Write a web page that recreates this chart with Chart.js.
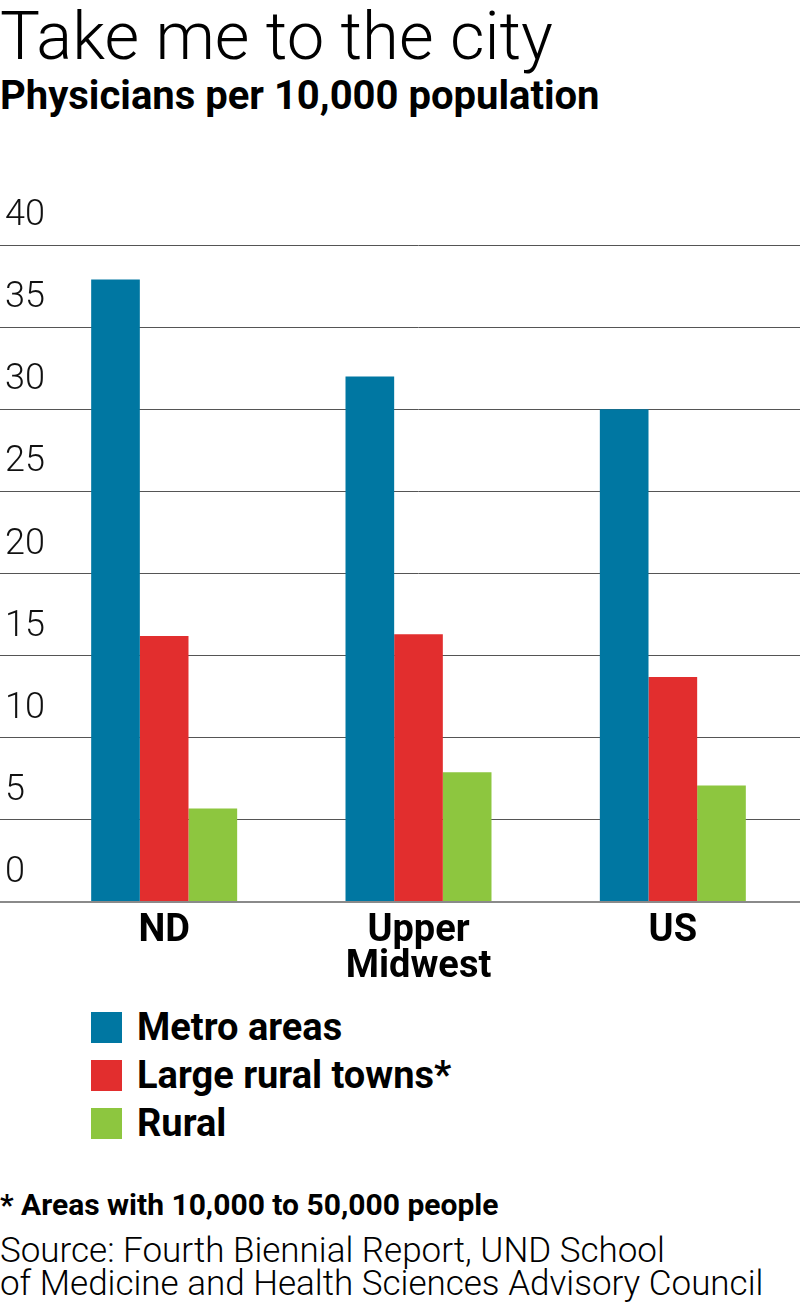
<!DOCTYPE html>
<html>
<head>
<meta charset="utf-8">
<script src="https://cdn.jsdelivr.net/npm/chart.js@4.4.0/dist/chart.umd.min.js"></script>
<style>
  body { margin: 0; width: 800px; height: 1312px; background: #fff; color: #000;
         font-family: Roboto, "Open Sans", sans-serif; position: relative; overflow: hidden; }
  .title { position: absolute; left: 0; top: 3px; font-size: 67px; font-weight: 300;
           line-height: 1; white-space: nowrap; }
  .subtitle { position: absolute; left: 0; top: 76px; font-size: 40px; font-weight: 700;
              line-height: 1; white-space: nowrap; }
  #wrap { position: absolute; left: 0; top: 170px; width: 800px; height: 820px; }
  #legend { position: absolute; left: 91px; top: 1003px; }
  .item { display: flex; align-items: center; height: 48px; font-size: 38px; font-weight: 700; white-space: nowrap; }
  .sw { width: 31px; height: 31px; margin-right: 15px; flex: none; }
  .note { position: absolute; left: 0; top: 1187px; font-size: 30px; font-weight: 700; white-space: nowrap; }
  .source { position: absolute; left: 0; top: 1234px; font-size: 35px; font-weight: 300; line-height: 33px; white-space: nowrap; }
</style>
</head>
<body>
<div class="title">Take me to the city</div>
<div class="subtitle">Physicians per 10,000 population</div>
<div id="wrap"><canvas id="myChart"></canvas></div>
<div id="legend"></div>
<div class="note">* Areas with 10,000 to 50,000 people</div>
<div class="source">Source: Fourth Biennial Report, UND School<br>of Medicine and Health Sciences Advisory Council</div>
<script>
const categories = [['ND'], ['Upper', 'Midwest'], ['US']];
const seriesNames = ['Metro areas', 'Large rural towns*', 'Rural'];
const metro = [37.9, 32.0, 30.0];
const largeRural = [16.2, 16.3, 13.7];
const rural = [5.7, 7.9, 7.1];
const colors = ['#0077a2', '#e22e2e', '#8dc63f'];
const yMin = 0, yMax = 40, yStep = 5;

const series = [metro, largeRural, rural];
const datasets = series.map((vals, i) => ({
    label: seriesNames[i],
    data: vals,
    backgroundColor: colors[i],
    borderWidth: 0,
    categoryPercentage: 0.574,
    barPercentage: 1.0
}));

// legend as plain html, built from the same arrays
const legend = document.getElementById('legend');
seriesNames.forEach((name, i) => {
    const row = document.createElement('div');
    row.className = 'item';
    row.innerHTML = '<span class="sw" style="background:' + colors[i] + '"></span>' + name;
    legend.appendChild(row);
});

const ctx = document.getElementById('myChart').getContext('2d');
new Chart(ctx, {
    type: 'bar',
    data: { labels: categories, datasets: datasets },
    options: {
        responsive: true,
        maintainAspectRatio: false,
        animation: false,
        layout: { padding: { top: 75, left: 0, right: 0, bottom: 0 } },
        plugins: { legend: { display: false }, tooltip: { enabled: false } },
        scales: {
            x: {
                grid: { display: false },
                border: { display: false },
                ticks: {
                    color: '#000',
                    font: { family: 'Roboto', size: 38, weight: 'bold', lineHeight: 0.95 },
                    padding: 3,
                    maxRotation: 0,
                    autoSkip: false
                },
                afterFit: scale => { scale.height = 88; }
            },
            y: {
                min: yMin,
                max: yMax,
                border: { display: false },
                grid: {
                    color: c => c.tick && c.tick.value === 0 ? '#8a8a8a' : '#555',
                    lineWidth: c => c.tick && c.tick.value === 0 ? 2 : 1,
                    tickLength: 37
                },
                ticks: {
                    stepSize: yStep,
                    mirror: true,
                    crossAlign: 'near',
                    padding: -32,
                    labelOffset: -29,
                    color: '#111',
                    font: { family: 'Roboto', size: 36, weight: '300' }
                },
                afterFit: scale => { scale.width = 37; }
            }
        }
    }
});
</script>
</body>
</html>
